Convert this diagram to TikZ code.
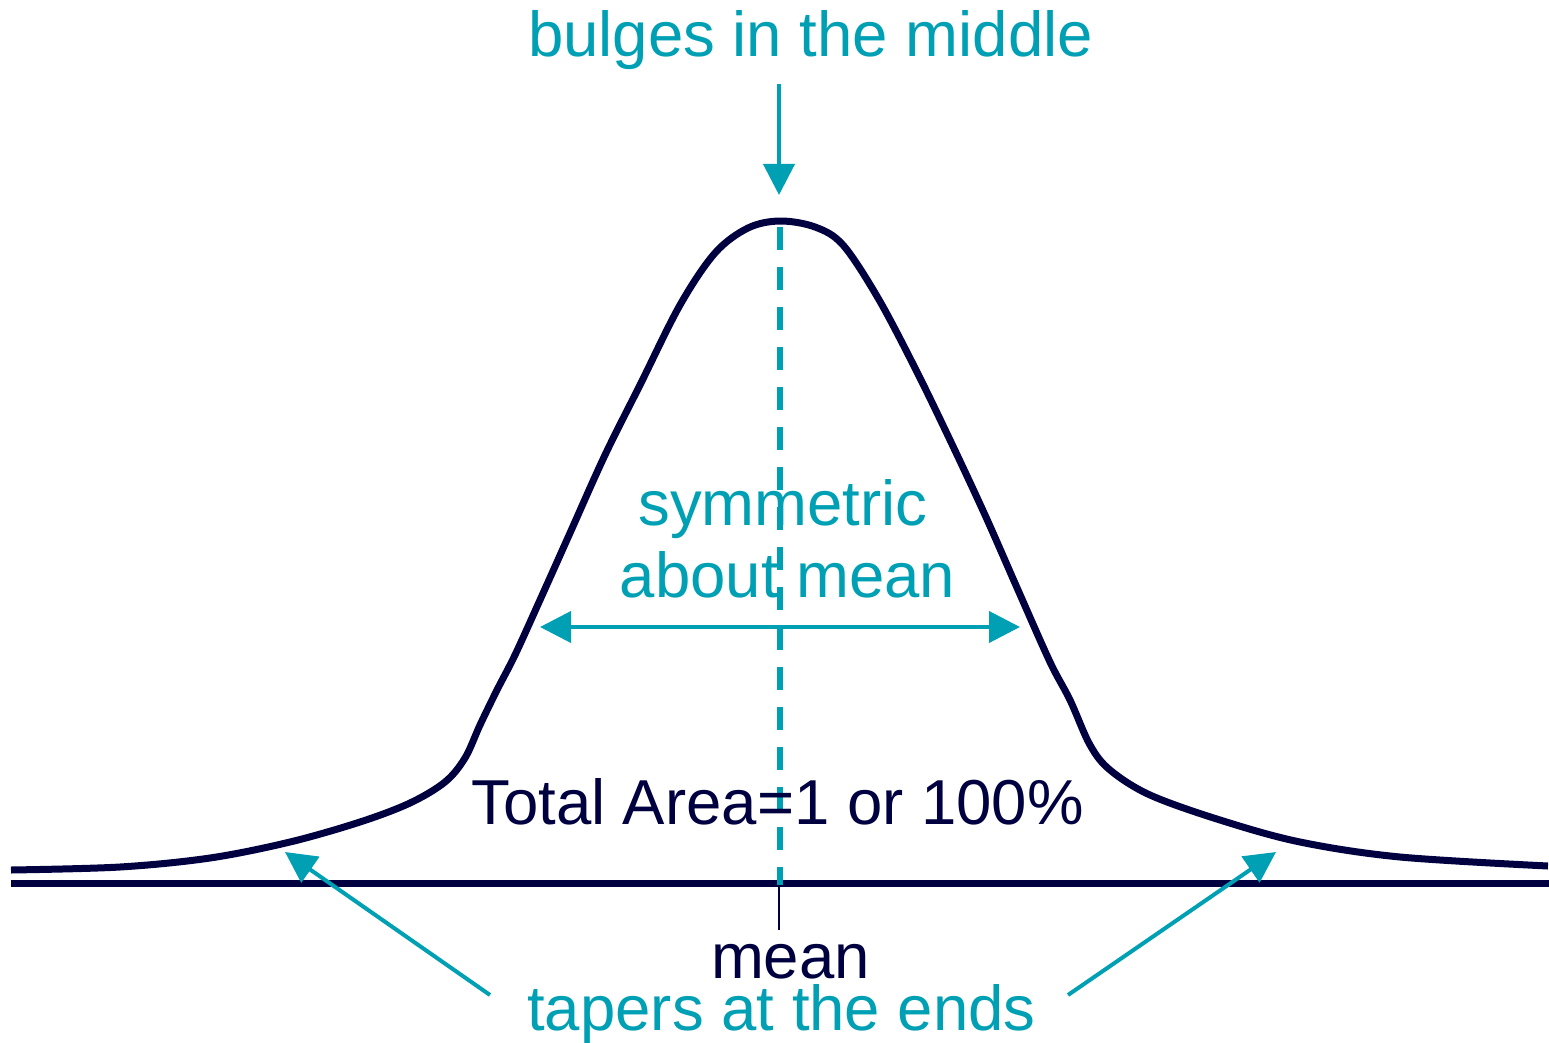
\documentclass[tikz,border=0pt]{standalone}
\usepackage{fontspec}
\setmainfont{Liberation Sans}
\usetikzlibrary{arrows.meta}
\definecolor{teal1}{RGB}{0,160,180}
\definecolor{navy1}{RGB}{0,0,64}
\begin{document}
\begin{tikzpicture}[x=1pt,y=-1pt,
  lbl/.style={font=\fontsize{63.5}{70}\selectfont, inner sep=0pt, anchor=base},
  tealtxt/.style={lbl, text=teal1},
  navytxt/.style={lbl, text=navy1},
  tealarrow/.style={draw=teal1, line width=4pt, -{Triangle[length=31pt,width=31pt]}},
  curveline/.style={draw=navy1, line width=7pt, line join=round}
]
\useasboundingbox (0,0) rectangle (1549,1043);
% axis
\coordinate (axL) at (11,883);
\coordinate (axR) at (1549,883);
\draw[draw=navy1, line width=7pt] (axL) -- (axR);
% curve
\draw[curveline] plot[smooth, tension=0.55] coordinates {
 (11,870) (120,867) (210,858) (290,842) (360,822) (410,803) (445,782)
 (465,758) (480,725) (497,690) (515,655) (540,600) (570,533) (605,455)
 (640,385) (680,305) (715,253) (748,228) (780,221) (815,227) (843,245)
 (878,298) (915,368) (950,440) (985,515) (1018,590) (1050,662) (1070,700)
 (1090,745) (1110,770) (1150,795) (1220,820) (1300,842) (1400,857) (1548,866)};
% mean dashed line
\coordinate (dTop) at (779.5,227);
\coordinate (dBot) at (779.5,885);
\draw[draw=teal1, line width=6pt, dash pattern=on 23pt off 17pt] (dTop) -- (dBot);
% tick
\coordinate (tTop) at (779,887);
\coordinate (tBot) at (779,930);
\draw[draw=navy1, line width=2pt] (tTop) -- (tBot);
% labels
\node[tealtxt] (bulge) at (810.5,57) {bulges in the middle};
\node[tealtxt] (sym) at (783,525) {symmetric};
\node[tealtxt] (about) at (787.5,597) {about mean};
\node[navytxt] (area) at (777.5,824) {Total Area=1 or 100\%};
\node[navytxt] (mean) at (790.5,978) {mean};
\node[tealtxt] (taper) at (781.5,1030) {tapers at the ends};
% arrows
\coordinate (topS) at (779,84);
\coordinate (topE) at (779,195);
\draw[tealarrow] (topS) -- (topE);
\coordinate (hL) at (540,627);
\coordinate (hR) at (1020,627);
\draw[draw=teal1, line width=4pt, {Triangle[length=31pt,width=31pt]}-{Triangle[length=31pt,width=31pt]}] (hL) -- (hR);
\coordinate (lS) at (490,995);
\coordinate (lE) at (285,852);
\draw[tealarrow] (lS) -- (lE);
\coordinate (rS) at (1068,995);
\coordinate (rE) at (1276,852);
\draw[tealarrow] (rS) -- (rE);
\end{tikzpicture}
\end{document}
